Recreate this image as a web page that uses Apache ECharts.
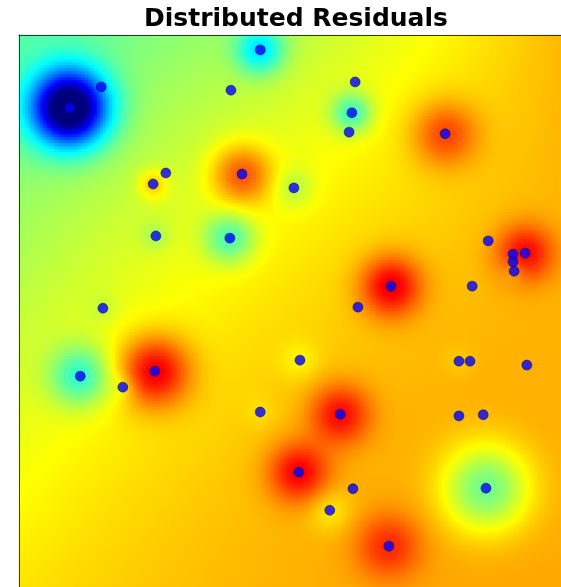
<!DOCTYPE html>
<html>
<head>
<meta charset="utf-8">
<title>Distributed Residuals</title>
<script src="https://cdn.jsdelivr.net/npm/echarts@6/dist/echarts.min.js"></script>
<style>
  html, body { margin: 0; padding: 0; background: #fff; }
  #chart { width: 561px; height: 587px; }
</style>
</head>
<body>
<div id="chart"></div>
<script>
// sample locations, 0-100 on both axes (y up)
const pointX = [43.7, 14.9, 9.2, 38.4, 60.9, 60.3, 59.8, 77.2, 26.6, 24.3,
                40.4, 49.8, 24.8, 38.2, 85.0, 89.5, 91.7, 89.5, 89.7, 67.4,
                82.1, 15.2, 61.4, 50.9, 79.7, 81.7, 92.0, 11.1, 18.8, 24.6,
                43.7, 58.2, 79.7, 84.1, 50.7, 84.6, 60.5, 56.3, 67.0]
const pointY = [97.3, 90.6, 86.8, 90.0, 91.5, 85.9, 82.4, 82.1, 75.0, 73.0,
                74.8, 72.3, 63.6, 63.2, 62.7, 60.3, 60.5, 58.9, 57.2, 54.5,
                54.5, 50.5, 50.7, 41.1, 40.9, 40.9, 40.2, 38.2, 36.2, 39.1,
                31.7, 31.3, 31.0, 31.2, 20.8, 17.9, 17.8, 13.9, 7.4]
// residual of each sample (colour scale units, + = warmer)
const residual = [-0.21, 0, -0.62, 0, 0, -0.18, 0, 0.15, 0, 0.10,
                  0.19, -0.07, -0.05, -0.17, 0, 0, 0.18, 0, -0.05, 0.22,
                  0, -0.03, 0, -0.04, -0.02, 0, 0, -0.19, -0.05, 0.25,
                  -0.02, 0.18, 0, 0, 0.19, -0.22, 0, -0.06, 0.13]
// reach of each residual, in axis units
const spread = [4.3, 4, 6.9, 4, 4, 3.6, 4, 5.8, 4, 2.7,
                5.4, 3.6, 2.7, 4.5, 4, 4, 5.1, 4, 2.2, 5.4,
                4, 2.7, 4, 3.6, 2.7, 4, 4, 5.4, 2.7, 6.3,
                2.7, 5.4, 4, 4, 5.4, 7.8, 4, 4.0, 5.8]
// background level: left / middle / right
const trendTop = [0.46, 0.56, 0.70]
const trendMid = [0.565, 0.66, 0.70]
const trendBottom = [0.65, 0.70, 0.71]

const cells = 184
const jet = ['#00007f', '#0000ff', '#007fff', '#00ffff', '#7fff7f',
             '#ffff00', '#ff7f00', '#ff0000', '#7f0000']

// quadratic weights for nodes at 0, 0.5, 1
function quad(t) {
    return [2 * (t - 0.5) * (t - 1), -4 * t * (t - 1), 2 * t * (t - 0.5)]
}

function level(x, y) {
    const wu = quad(x / 100)
    const wv = quad(1 - y / 100)
    const rows = [trendTop, trendMid, trendBottom]
    let v = 0
    for (let r = 0; r < 3; r++) {
        for (let c = 0; c < 3; c++) {
            v += wv[r] * wu[c] * rows[r][c]
        }
    }
    for (let k = 0; k < pointX.length; k++) {
        if (!residual[k]) continue
        const dx = x - pointX[k]
        const dy = y - pointY[k]
        v += residual[k] * Math.exp(-(dx * dx + dy * dy) / (spread[k] * spread[k]))
    }
    return Math.max(0, Math.min(1, v))
}

const cellNames = []
for (let i = 0; i < cells; i++) cellNames.push(i)

const fieldData = []
for (let i = 0; i < cells; i++) {
    for (let j = 0; j < cells; j++) {
        const x = (i + 0.5) * 100 / cells
        const y = (j + 0.5) * 100 / cells
        fieldData.push([i, j, level(x, y)])
    }
}

const pointData = pointX.map((x, i) => [x, pointY[i]])

const chart = echarts.init(document.getElementById('chart'), null, { renderer: 'canvas' })
const plotRect = { left: 19, top: 35, width: 552, height: 552, outerBoundsMode: 'none' }

chart.setOption({
    animation: false,
    title: {
        text: 'Distributed Residuals',
        left: 144,
        top: 7,
        padding: 0,
        textStyle: {
            fontFamily: 'DejaVu Sans',
            fontWeight: 'bold',
            fontSize: 25,
            color: '#000'
        }
    },
    grid: [
        Object.assign({}, plotRect),
        Object.assign({}, plotRect)
    ],
    xAxis: [
        {
            type: 'category', gridIndex: 0, data: cellNames, position: 'top', z: 10,
            axisLine: { show: true, onZero: false, lineStyle: { color: '#333', width: 1 } },
            axisTick: { show: false }, axisLabel: { show: false }, splitLine: { show: false }
        },
        { type: 'value', gridIndex: 1, min: 0, max: 100, show: false }
    ],
    yAxis: [
        {
            type: 'category', gridIndex: 0, data: cellNames, position: 'left', z: 10,
            axisLine: { show: true, onZero: false, lineStyle: { color: '#333', width: 1 } },
            axisTick: { show: false }, axisLabel: { show: false }, splitLine: { show: false }
        },
        { type: 'value', gridIndex: 1, min: 0, max: 100, show: false }
    ],
    visualMap: {
        type: 'continuous',
        show: false,
        min: 0,
        max: 1,
        dimension: 2,
        seriesIndex: 0,
        inRange: { color: jet }
    },
    series: [
        {
            type: 'heatmap',
            xAxisIndex: 0,
            yAxisIndex: 0,
            data: fieldData,
            progressive: 0,
            emphasis: { disabled: true }
        },
        {
            type: 'scatter',
            xAxisIndex: 1,
            yAxisIndex: 1,
            data: pointData,
            symbolSize: 10,
            z: 5,
            itemStyle: { color: '#0000ff', borderColor: '#000070', borderWidth: 0.6 }
        }
    ]
})
</script>
</body>
</html>
